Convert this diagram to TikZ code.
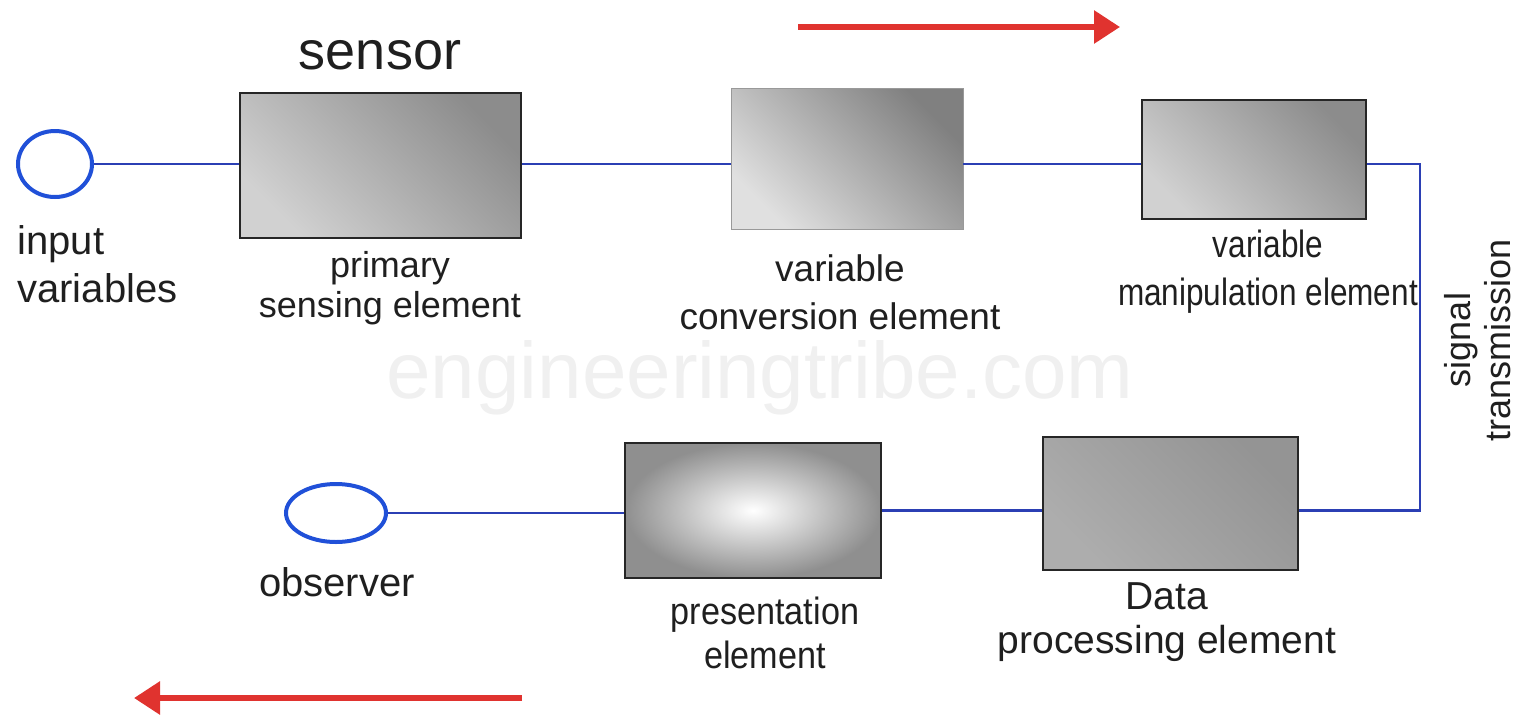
\documentclass[tikz,border=0pt]{standalone}
\usepackage{fontspec}
\setmainfont{Liberation Sans}
\usetikzlibrary{shapes.geometric,arrows.meta}
\definecolor{wire}{HTML}{2B3FB4}
\definecolor{ring}{HTML}{2050D8}
\definecolor{flow}{HTML}{E0332F}
\tikzset{
  lbl/.style={font=\fontsize{19}{24}\selectfont, align=center, text=black!88, inner sep=0pt},
  blockbox/.style 2 args={rectangle, draw=black!85, line width=0.8pt, inner sep=0pt,
    top color=#1, bottom color=#2, shading angle=-45},
  port/.style={ellipse, draw=ring, line width=2pt, fill=white, inner sep=0pt},
  wireline/.style={draw=wire, line width=1.2pt},
  flowarrow/.style={draw=flow, line width=3pt, -{Triangle[length=13pt,width=16pt]}}
}
\begin{document}
\begin{tikzpicture}[x=0.5pt,y=-0.5pt]
  \useasboundingbox (0,0) rectangle (1519,718);
  % faint site name behind the diagram
  \node[text=black!6, font=\fontsize{40}{48}\selectfont] (wm) at (760,378) {engineeringtribe.com};

  % direction of signal flow
  \coordinate (ftA) at (798,27);  \coordinate (ftB) at (1120,27);
  \coordinate (fbA) at (522,698); \coordinate (fbB) at (134,698);
  \draw[flowarrow] (ftA) -- (ftB);
  \draw[flowarrow] (fbA) -- (fbB);

  % end points
  \node[port, minimum width=37pt, minimum height=33pt] (input) at (55,164) {};
  \node[port, minimum width=50pt, minimum height=29pt] (obs) at (336,513) {};

  % top row of elements
  \node[blockbox={black!45}{black!18}, minimum width=140.5pt, minimum height=72.5pt] (prim) at (380.5,165.5) {};
  \node[blockbox={black!50}{black!12}, draw=black!40, line width=0.4pt, minimum width=116pt, minimum height=70.5pt] (conv) at (847,158.5) {};
  \node[blockbox={black!45}{black!18}, minimum width=112pt, minimum height=59.5pt] (manip) at (1254,159.5) {};

  % bottom row of elements
  \node[blockbox={black!42}{black!32}, minimum width=127.5pt, minimum height=66.5pt] (proc) at (1170.5,503.5) {};
  \node[rectangle, draw=black!85, line width=0.8pt, inner sep=0pt,
        inner color=white, outer color=black!44,
        minimum width=128pt, minimum height=67.5pt] (pres) at (753,510.5) {};

  % signal path
  \coordinate (turn) at (1420,340);
  \draw[wireline] (input.east) -- (prim.west |- input.east);
  \draw[wireline] (prim.east |- input.east) -- (conv.west |- input.east);
  \draw[wireline] (conv.east |- input.east) -- (manip.west |- input.east);
  \draw[wireline] (manip.east |- input.east) -| (turn) |- ([yshift=-3.5pt]proc.east);
  \draw[wireline] ([yshift=-3.5pt]proc.west) -- ([yshift=-3.5pt]proc.west -| pres.east);
  \draw[wireline] (pres.west |- obs.east) -- (obs.east);

  % labels
  \node[lbl, font=\fontsize{27}{32}\selectfont] (tsensor) at (380,55) {sensor};
  \node[lbl, align=left, font=\fontsize{20}{24}\selectfont, anchor=west] (tin) at (17,264) {input\\variables};
  \node[lbl, font=\fontsize{18}{20}\selectfont] (tprim) at (390,288) {primary\\sensing element};
  \node[lbl, font=\fontsize{18.5}{24}\selectfont] (tconv) at (840,292) {variable\\conversion element};
  \node[lbl, xscale=0.83, transform shape, font=\fontsize{19}{24}\selectfont] (tmanip) at (1268,272) {variable\\manipulation element};
  \node[lbl, rotate=90, font=\fontsize{18}{20}\selectfont] (tsig) at (1478,340) {signal\\transmission};
  \node[lbl, font=\fontsize{20}{24}\selectfont] (tobs) at (337,582) {observer};
  \node[lbl, xscale=0.9, transform shape, font=\fontsize{19}{22}\selectfont] (tpres) at (765,633) {presentation\\element};
  \node[lbl, font=\fontsize{19.5}{22}\selectfont] (tproc) at (1167,622) {Data\\processing element};
\end{tikzpicture}
\end{document}
